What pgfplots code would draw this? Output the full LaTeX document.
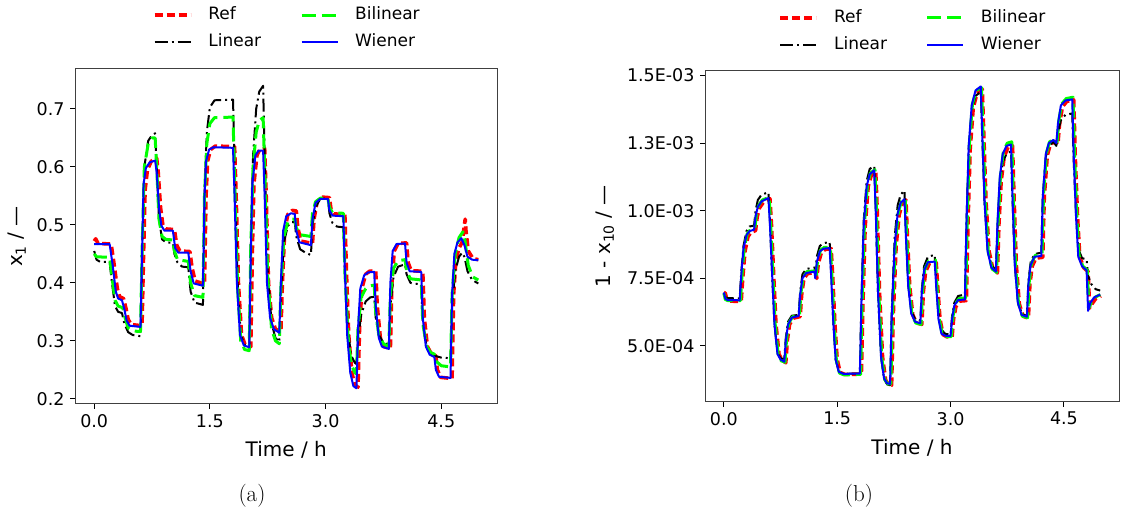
\documentclass[border=0pt]{standalone}
\usepackage{fontspec}
\usepackage{pgfplots}
\pgfplotsset{compat=1.18}
\newfontfamily\dejavu{DejaVu Sans}
\definecolor{cref}{HTML}{FF0000}
\definecolor{cbil}{HTML}{00FF00}
\definecolor{cwie}{HTML}{0000FF}
\pgfplotsset{
  mystyle/.style={
    scale only axis,
    xmin=-0.249, xmax=5.229,
    xtick={0,1.5,3,4.5}, xticklabels={0.0,1.5,3.0,4.5},
    tick pos=left, tick align=outside, major tick length=5pt,
    every tick/.style={black, line width=1pt},
    axis line style={draw=black!75, line width=1pt},
    tick label style={font=\dejavu\fontsize{17.5}{20}\selectfont, text=black},
    xticklabel style={yshift=-2pt},
    yticklabel style={xshift=-2pt},
    label style={font=\dejavu\fontsize{20}{24}\selectfont},
    xlabel={Time / h},
    xlabel style={at={(axis description cs:0.5,0)}, anchor=center, yshift=-46pt},
    legend columns=2, transpose legend,
    legend cell align=left,
    legend image code/.code={\draw[##1] (0pt,0pt) -- (36pt,0pt);},
    legend style={draw=none, fill=none, at={(0.5,1.12)}, anchor=center,
      font=\dejavu\fontsize{17}{20}\selectfont,
      nodes={inner sep=0pt, text height=12pt, text depth=3pt},
      row sep=12pt,
      /tikz/every odd column/.append style={column sep=16pt},
      /tikz/every even column/.append style={column sep=39pt}},
  },
  sref/.style={color=cref, line width=3.6pt, dash pattern=on 8pt off 4pt, line join=round},
  slin/.style={color=black, line width=2pt, dash pattern=on 13pt off 4pt on 2pt off 4pt, line join=round},
  sbil/.style={color=cbil, line width=3pt, dash pattern=on 14pt off 6pt, line join=round},
  swie/.style={color=cwie, line width=2pt, solid, line join=round},
}
\begin{document}
\begin{tikzpicture}[x=1pt,y=1pt]
\useasboundingbox (0,0) rectangle (1121,513);
% ---------------- (a) ----------------
\begin{axis}[mystyle, at={(75pt,109pt)}, anchor=south west,
  width=422.5pt, height=335pt,
  ymin=0.191, ymax=0.769,
  ytick={0.2,0.3,0.4,0.5,0.6,0.7}, yticklabels={0.2,0.3,0.4,0.5,0.6,0.7},
  ylabel={x\textsubscript{1} / —},
  ylabel style={at={(axis description cs:-0.137,0.5)}, anchor=center}]
\addplot[sref] coordinates {(0,0.472)(0.02,0.476)(0.05,0.468)(0.22,0.467)(0.26,0.43)(0.30,0.39)(0.33,0.376)(0.38,0.373)(0.41,0.357)(0.44,0.337)(0.48,0.328)(0.62,0.326)(0.64,0.45)(0.66,0.56)(0.69,0.595)(0.74,0.61)(0.81,0.615)(0.83,0.59)(0.86,0.53)(0.89,0.5)(0.93,0.493)(1.04,0.492)(1.07,0.465)(1.11,0.455)(1.24,0.454)(1.27,0.425)(1.31,0.403)(1.43,0.398)(1.45,0.55)(1.47,0.61)(1.51,0.63)(1.57,0.636)(1.82,0.635)(1.84,0.55)(1.87,0.40)(1.91,0.31)(1.96,0.292)(2.03,0.29)(2.05,0.45)(2.07,0.57)(2.11,0.62)(2.15,0.631)(2.21,0.632)(2.23,0.55)(2.26,0.40)(2.30,0.34)(2.35,0.32)(2.42,0.316)(2.44,0.40)(2.47,0.49)(2.51,0.518)(2.57,0.525)(2.62,0.524)(2.64,0.495)(2.68,0.472)(2.83,0.468)(2.85,0.51)(2.89,0.54)(2.95,0.548)(3.05,0.547)(3.07,0.527)(3.11,0.519)(3.25,0.518)(3.27,0.42)(3.30,0.31)(3.34,0.245)(3.38,0.224)(3.42,0.22)(3.44,0.32)(3.47,0.39)(3.52,0.415)(3.57,0.42)(3.65,0.421)(3.67,0.36)(3.71,0.305)(3.75,0.29)(3.84,0.287)(3.86,0.40)(3.89,0.455)(3.94,0.468)(4.05,0.469)(4.07,0.435)(4.11,0.421)(4.26,0.42)(4.28,0.34)(4.32,0.29)(4.37,0.278)(4.43,0.274)(4.45,0.25)(4.49,0.237)(4.64,0.235)(4.66,0.38)(4.69,0.44)(4.73,0.46)(4.77,0.47)(4.80,0.50)(4.81,0.51)(4.82,0.49)(4.85,0.455)(4.91,0.442)(4.98,0.44)};
\addlegendentry{Ref}
\addplot[slin] coordinates {(0,0.455)(0.03,0.44)(0.08,0.436)(0.20,0.436)(0.23,0.40)(0.27,0.36)(0.31,0.35)(0.36,0.348)(0.39,0.33)(0.44,0.315)(0.50,0.31)(0.60,0.308)(0.62,0.45)(0.65,0.60)(0.70,0.645)(0.75,0.655)(0.79,0.658)(0.81,0.60)(0.84,0.51)(0.88,0.475)(0.93,0.47)(1.02,0.469)(1.04,0.45)(1.08,0.435)(1.14,0.428)(1.22,0.427)(1.25,0.385)(1.30,0.366)(1.41,0.362)(1.43,0.55)(1.46,0.66)(1.50,0.703)(1.56,0.715)(1.80,0.716)(1.82,0.60)(1.86,0.40)(1.90,0.31)(1.95,0.293)(2.01,0.289)(2.03,0.47)(2.06,0.62)(2.10,0.70)(2.14,0.73)(2.19,0.74)(2.21,0.62)(2.25,0.42)(2.30,0.33)(2.35,0.305)(2.40,0.298)(2.42,0.38)(2.46,0.47)(2.51,0.498)(2.56,0.505)(2.60,0.505)(2.62,0.48)(2.67,0.458)(2.74,0.452)(2.81,0.448)(2.83,0.50)(2.87,0.53)(2.93,0.545)(3.03,0.546)(3.05,0.52)(3.09,0.503)(3.15,0.497)(3.23,0.496)(3.25,0.42)(3.29,0.32)(3.33,0.275)(3.38,0.262)(3.40,0.26)(3.42,0.30)(3.46,0.345)(3.52,0.368)(3.58,0.375)(3.63,0.376)(3.65,0.34)(3.69,0.31)(3.75,0.297)(3.82,0.293)(3.84,0.36)(3.88,0.41)(3.94,0.428)(4.03,0.432)(4.05,0.415)(4.10,0.40)(4.24,0.397)(4.26,0.33)(4.31,0.29)(4.36,0.278)(4.42,0.274)(4.50,0.271)(4.62,0.27)(4.64,0.36)(4.68,0.42)(4.73,0.445)(4.77,0.452)(4.80,0.445)(4.84,0.42)(4.90,0.405)(4.98,0.399)};
\addlegendentry{Linear}
\addplot[sbil] coordinates {(0,0.45)(0.03,0.445)(0.20,0.444)(0.23,0.41)(0.27,0.37)(0.31,0.36)(0.37,0.357)(0.40,0.34)(0.44,0.322)(0.50,0.317)(0.60,0.316)(0.62,0.45)(0.65,0.60)(0.70,0.64)(0.75,0.65)(0.79,0.65)(0.81,0.60)(0.84,0.51)(0.88,0.48)(0.93,0.475)(1.02,0.474)(1.04,0.455)(1.08,0.44)(1.22,0.437)(1.25,0.40)(1.30,0.378)(1.41,0.375)(1.43,0.55)(1.46,0.64)(1.50,0.675)(1.56,0.685)(1.80,0.686)(1.82,0.58)(1.86,0.39)(1.90,0.30)(1.95,0.285)(2.01,0.283)(2.03,0.46)(2.06,0.60)(2.10,0.66)(2.14,0.68)(2.19,0.685)(2.21,0.60)(2.25,0.41)(2.30,0.32)(2.35,0.300)(2.40,0.295)(2.42,0.39)(2.46,0.48)(2.51,0.505)(2.56,0.51)(2.60,0.51)(2.62,0.495)(2.67,0.483)(2.81,0.480)(2.83,0.52)(2.87,0.54)(2.93,0.546)(3.03,0.546)(3.05,0.53)(3.09,0.521)(3.23,0.52)(3.25,0.42)(3.29,0.31)(3.33,0.26)(3.38,0.245)(3.40,0.243)(3.42,0.32)(3.46,0.375)(3.52,0.39)(3.58,0.395)(3.63,0.396)(3.65,0.35)(3.69,0.31)(3.75,0.295)(3.82,0.29)(3.84,0.38)(3.88,0.425)(3.94,0.438)(4.03,0.44)(4.05,0.42)(4.10,0.407)(4.24,0.405)(4.26,0.33)(4.31,0.29)(4.36,0.28)(4.41,0.277)(4.43,0.265)(4.50,0.257)(4.62,0.255)(4.64,0.38)(4.68,0.45)(4.73,0.478)(4.78,0.488)(4.81,0.47)(4.85,0.43)(4.91,0.41)(4.98,0.405)};
\addlegendentry{Bilinear}
\addplot[swie] coordinates {(0,0.467)(0.20,0.467)(0.24,0.43)(0.28,0.385)(0.31,0.373)(0.36,0.37)(0.39,0.355)(0.42,0.335)(0.46,0.326)(0.60,0.324)(0.62,0.45)(0.64,0.57)(0.67,0.598)(0.72,0.608)(0.79,0.611)(0.81,0.59)(0.84,0.53)(0.87,0.499)(0.91,0.49)(1.02,0.49)(1.05,0.46)(1.09,0.452)(1.22,0.452)(1.25,0.42)(1.29,0.399)(1.41,0.395)(1.43,0.55)(1.45,0.61)(1.49,0.63)(1.55,0.634)(1.80,0.633)(1.82,0.55)(1.85,0.40)(1.89,0.31)(1.94,0.292)(2.01,0.289)(2.03,0.45)(2.05,0.57)(2.09,0.62)(2.13,0.628)(2.19,0.628)(2.21,0.55)(2.24,0.40)(2.28,0.34)(2.33,0.32)(2.40,0.314)(2.42,0.40)(2.45,0.49)(2.49,0.515)(2.55,0.52)(2.60,0.519)(2.62,0.49)(2.66,0.47)(2.81,0.465)(2.83,0.51)(2.87,0.538)(2.93,0.545)(3.03,0.545)(3.05,0.525)(3.09,0.516)(3.23,0.515)(3.25,0.42)(3.28,0.31)(3.32,0.245)(3.36,0.222)(3.40,0.218)(3.42,0.32)(3.45,0.39)(3.50,0.413)(3.55,0.418)(3.63,0.419)(3.65,0.36)(3.69,0.305)(3.73,0.29)(3.82,0.286)(3.84,0.40)(3.87,0.455)(3.92,0.467)(4.03,0.468)(4.05,0.435)(4.09,0.42)(4.24,0.419)(4.26,0.34)(4.30,0.29)(4.35,0.276)(4.41,0.272)(4.43,0.25)(4.47,0.238)(4.62,0.236)(4.64,0.38)(4.67,0.45)(4.71,0.47)(4.76,0.477)(4.80,0.465)(4.84,0.445)(4.90,0.44)(4.98,0.439)};
\addlegendentry{Wiener}
\end{axis}
% ---------------- (b) ----------------
\begin{axis}[mystyle, at={(705pt,111.3pt)}, anchor=south west,
  width=414pt, height=330.7pt,
  ymin=2.94e-4, ymax=1.517e-3, scaled y ticks=false,
  ytick={5e-4,7.5e-4,1e-3,1.25e-3,1.5e-3},
  yticklabels={5.0E-04,7.5E-04,1.0E-03,1.3E-03,1.5E-03},
  ylabel={1 - x\textsubscript{10} / —},
  ylabel style={at={(axis description cs:-0.2415,0.5)}, anchor=center}]
\addplot[sref] coordinates {(0,6.98e-4)(0.02,6.95e-4)(0.04,6.72e-4)(0.07,6.66e-4)(0.23,6.65e-4)(0.25,7.5e-4)(0.28,8.5e-4)(0.32,9.05e-4)(0.36,9.2e-4)(0.42,9.27e-4)(0.44,9.75e-4)(0.47,10.1e-4)(0.52,10.3e-4)(0.61,10.45e-4)(0.63,9.5e-4)(0.66,7.6e-4)(0.69,5.8e-4)(0.73,4.7e-4)(0.77,4.48e-4)(0.82,4.38e-4)(0.84,5.2e-4)(0.87,5.8e-4)(0.92,6.03e-4)(1.01,6.09e-4)(1.03,6.9e-4)(1.06,7.5e-4)(1.11,7.68e-4)(1.22,7.72e-4)(1.23,7.5e-4)(1.25,8.05e-4)(1.29,8.45e-4)(1.34,8.57e-4)(1.42,8.6e-4)(1.44,7.6e-4)(1.47,5.8e-4)(1.50,4.5e-4)(1.54,4.02e-4)(1.60,3.95e-4)(1.82,3.96e-4)(1.84,6.5e-4)(1.87,9.4e-4)(1.91,10.9e-4)(1.95,11.3e-4)(2.01,11.45e-4)(2.03,10.0e-4)(2.06,7.0e-4)(2.10,4.6e-4)(2.14,3.75e-4)(2.18,3.57e-4)(2.22,3.55e-4)(2.24,6.0e-4)(2.28,8.7e-4)(2.32,9.85e-4)(2.36,10.25e-4)(2.41,10.4e-4)(2.43,9.0e-4)(2.46,7.2e-4)(2.50,6.15e-4)(2.55,5.85e-4)(2.62,5.8e-4)(2.64,7.0e-4)(2.67,7.75e-4)(2.72,8.05e-4)(2.81,8.08e-4)(2.83,7.2e-4)(2.86,6.0e-4)(2.90,5.42e-4)(2.95,5.34e-4)(3.02,5.33e-4)(3.04,6.0e-4)(3.07,6.45e-4)(3.12,6.66e-4)(3.21,6.68e-4)(3.23,9.5e-4)(3.26,12.3e-4)(3.30,13.8e-4)(3.35,14.35e-4)(3.42,14.5e-4)(3.44,12.8e-4)(3.47,10.3e-4)(3.51,8.5e-4)(3.56,7.85e-4)(3.62,7.7e-4)(3.64,9.5e-4)(3.67,11.1e-4)(3.71,12.0e-4)(3.76,12.35e-4)(3.82,12.4e-4)(3.84,10.5e-4)(3.87,8.0e-4)(3.91,6.55e-4)(3.96,6.1e-4)(4.03,6.03e-4)(4.05,7.3e-4)(4.08,7.95e-4)(4.13,8.25e-4)(4.22,8.28e-4)(4.24,10.5e-4)(4.28,12.05e-4)(4.32,12.45e-4)(4.38,12.57e-4)(4.42,12.45e-4)(4.44,13.15e-4)(4.48,13.85e-4)(4.54,14.05e-4)(4.63,14.1e-4)(4.65,12.0e-4)(4.68,9.8e-4)(4.71,8.3e-4)(4.76,7.9e-4)(4.82,7.75e-4)(4.84,6.4e-4)(4.87,6.55e-4)(4.92,6.75e-4)(4.99,6.85e-4)};
\addlegendentry{Ref}
\addplot[slin] coordinates {(0,6.95e-4)(0.02,6.8e-4)(0.05,6.77e-4)(0.21,6.76e-4)(0.23,7.7e-4)(0.26,8.7e-4)(0.30,9.25e-4)(0.34,9.42e-4)(0.40,9.45e-4)(0.42,10.0e-4)(0.45,10.4e-4)(0.50,10.6e-4)(0.59,10.68e-4)(0.61,9.6e-4)(0.64,7.6e-4)(0.67,5.8e-4)(0.71,4.75e-4)(0.75,4.55e-4)(0.80,4.5e-4)(0.82,5.3e-4)(0.85,5.9e-4)(0.90,6.12e-4)(0.99,6.15e-4)(1.01,7.0e-4)(1.04,7.65e-4)(1.09,7.85e-4)(1.20,7.9e-4)(1.21,7.7e-4)(1.23,8.3e-4)(1.27,8.7e-4)(1.32,8.8e-4)(1.40,8.85e-4)(1.42,7.7e-4)(1.45,5.8e-4)(1.48,4.5e-4)(1.52,4.05e-4)(1.58,3.98e-4)(1.80,3.98e-4)(1.82,6.6e-4)(1.85,9.6e-4)(1.89,11.1e-4)(1.93,11.55e-4)(1.99,11.65e-4)(2.01,10.1e-4)(2.04,7.0e-4)(2.08,4.6e-4)(2.12,3.8e-4)(2.16,3.58e-4)(2.20,3.55e-4)(2.22,6.1e-4)(2.26,9.0e-4)(2.30,10.2e-4)(2.34,10.6e-4)(2.39,10.75e-4)(2.41,9.2e-4)(2.44,7.3e-4)(2.48,6.3e-4)(2.53,6.0e-4)(2.60,5.95e-4)(2.62,7.1e-4)(2.65,7.95e-4)(2.70,8.3e-4)(2.79,8.37e-4)(2.81,7.4e-4)(2.84,6.2e-4)(2.88,5.6e-4)(2.93,5.45e-4)(3.00,5.42e-4)(3.02,6.1e-4)(3.05,6.6e-4)(3.10,6.85e-4)(3.19,6.9e-4)(3.21,9.5e-4)(3.24,12.3e-4)(3.28,13.7e-4)(3.33,14.25e-4)(3.40,14.4e-4)(3.42,12.7e-4)(3.45,10.3e-4)(3.49,8.6e-4)(3.54,8.0e-4)(3.60,7.8e-4)(3.62,9.3e-4)(3.65,10.9e-4)(3.69,11.8e-4)(3.74,12.1e-4)(3.80,12.2e-4)(3.82,10.4e-4)(3.85,8.0e-4)(3.89,6.7e-4)(3.94,6.2e-4)(4.01,6.1e-4)(4.03,7.4e-4)(4.06,8.1e-4)(4.11,8.4e-4)(4.20,8.45e-4)(4.22,10.5e-4)(4.26,12.0e-4)(4.30,12.4e-4)(4.36,12.55e-4)(4.40,12.4e-4)(4.42,12.9e-4)(4.46,13.35e-4)(4.52,13.55e-4)(4.61,13.6e-4)(4.63,11.8e-4)(4.66,9.9e-4)(4.69,8.6e-4)(4.74,8.25e-4)(4.80,8.2e-4)(4.82,7.6e-4)(4.86,7.3e-4)(4.92,7.1e-4)(4.98,7.05e-4)};
\addlegendentry{Linear}
\addplot[sbil] coordinates {(0,6.95e-4)(0.02,6.72e-4)(0.05,6.68e-4)(0.22,6.68e-4)(0.24,7.6e-4)(0.27,8.65e-4)(0.31,9.15e-4)(0.35,9.3e-4)(0.41,9.33e-4)(0.43,9.85e-4)(0.46,10.2e-4)(0.51,10.4e-4)(0.60,10.5e-4)(0.62,9.5e-4)(0.65,7.6e-4)(0.68,5.8e-4)(0.72,4.65e-4)(0.76,4.45e-4)(0.81,4.4e-4)(0.83,5.25e-4)(0.86,5.85e-4)(0.91,6.08e-4)(1.00,6.13e-4)(1.02,6.95e-4)(1.05,7.55e-4)(1.10,7.75e-4)(1.21,7.78e-4)(1.22,7.55e-4)(1.24,8.15e-4)(1.28,8.55e-4)(1.33,8.65e-4)(1.41,8.65e-4)(1.43,7.6e-4)(1.46,5.8e-4)(1.49,4.45e-4)(1.53,4.0e-4)(1.59,3.93e-4)(1.81,3.95e-4)(1.83,6.6e-4)(1.86,9.5e-4)(1.90,10.95e-4)(1.94,11.4e-4)(2.00,11.52e-4)(2.02,10.0e-4)(2.05,7.0e-4)(2.09,4.55e-4)(2.13,3.75e-4)(2.17,3.6e-4)(2.21,3.6e-4)(2.23,6.1e-4)(2.27,8.8e-4)(2.31,9.95e-4)(2.35,10.35e-4)(2.40,10.45e-4)(2.42,9.0e-4)(2.45,7.2e-4)(2.49,6.15e-4)(2.54,5.85e-4)(2.61,5.8e-4)(2.63,7.05e-4)(2.66,7.85e-4)(2.71,8.15e-4)(2.80,8.18e-4)(2.82,7.2e-4)(2.85,6.0e-4)(2.89,5.42e-4)(2.94,5.35e-4)(3.01,5.35e-4)(3.03,6.05e-4)(3.06,6.55e-4)(3.11,6.75e-4)(3.20,6.78e-4)(3.22,9.6e-4)(3.25,12.5e-4)(3.29,13.95e-4)(3.34,14.45e-4)(3.41,14.55e-4)(3.43,12.8e-4)(3.46,10.3e-4)(3.50,8.45e-4)(3.55,7.85e-4)(3.61,7.72e-4)(3.63,9.6e-4)(3.66,11.3e-4)(3.70,12.2e-4)(3.75,12.5e-4)(3.81,12.55e-4)(3.83,10.5e-4)(3.86,8.0e-4)(3.90,6.55e-4)(3.95,6.1e-4)(4.02,6.05e-4)(4.04,7.35e-4)(4.07,8.05e-4)(4.12,8.35e-4)(4.21,8.38e-4)(4.23,10.6e-4)(4.27,12.15e-4)(4.31,12.55e-4)(4.37,12.65e-4)(4.41,12.55e-4)(4.43,13.3e-4)(4.47,13.95e-4)(4.53,14.15e-4)(4.62,14.2e-4)(4.64,12.1e-4)(4.67,9.9e-4)(4.70,8.35e-4)(4.75,7.95e-4)(4.81,7.8e-4)(4.83,6.4e-4)(4.86,6.6e-4)(4.91,6.8e-4)(4.98,6.9e-4)};
\addlegendentry{Bilinear}
\addplot[swie] coordinates {(0,6.98e-4)(0.02,6.75e-4)(0.05,6.70e-4)(0.21,6.69e-4)(0.23,7.6e-4)(0.26,8.6e-4)(0.30,9.1e-4)(0.34,9.25e-4)(0.40,9.3e-4)(0.42,9.8e-4)(0.45,10.15e-4)(0.50,10.35e-4)(0.59,10.47e-4)(0.61,9.5e-4)(0.64,7.6e-4)(0.67,5.8e-4)(0.71,4.7e-4)(0.75,4.5e-4)(0.80,4.42e-4)(0.82,5.2e-4)(0.85,5.8e-4)(0.90,6.05e-4)(0.99,6.11e-4)(1.01,6.9e-4)(1.04,7.5e-4)(1.09,7.7e-4)(1.20,7.75e-4)(1.21,7.5e-4)(1.23,8.1e-4)(1.27,8.5e-4)(1.32,8.6e-4)(1.40,8.62e-4)(1.42,7.6e-4)(1.45,5.8e-4)(1.48,4.5e-4)(1.52,4.05e-4)(1.58,3.97e-4)(1.80,3.98e-4)(1.82,6.5e-4)(1.85,9.4e-4)(1.89,10.9e-4)(1.93,11.35e-4)(1.99,11.5e-4)(2.01,10.0e-4)(2.04,7.0e-4)(2.08,4.6e-4)(2.12,3.8e-4)(2.16,3.62e-4)(2.20,3.6e-4)(2.22,6.0e-4)(2.26,8.7e-4)(2.30,9.9e-4)(2.34,10.3e-4)(2.39,10.43e-4)(2.41,9.0e-4)(2.44,7.2e-4)(2.48,6.2e-4)(2.53,5.9e-4)(2.60,5.84e-4)(2.62,7.0e-4)(2.65,7.8e-4)(2.70,8.1e-4)(2.79,8.12e-4)(2.81,7.2e-4)(2.84,6.0e-4)(2.88,5.45e-4)(2.93,5.38e-4)(3.00,5.37e-4)(3.02,6.0e-4)(3.05,6.5e-4)(3.10,6.7e-4)(3.19,6.72e-4)(3.21,9.5e-4)(3.24,12.4e-4)(3.28,13.9e-4)(3.33,14.45e-4)(3.40,14.6e-4)(3.42,12.8e-4)(3.45,10.3e-4)(3.49,8.5e-4)(3.54,7.9e-4)(3.60,7.75e-4)(3.62,9.5e-4)(3.65,11.2e-4)(3.69,12.1e-4)(3.74,12.4e-4)(3.80,12.45e-4)(3.82,10.5e-4)(3.85,8.0e-4)(3.89,6.6e-4)(3.94,6.15e-4)(4.01,6.08e-4)(4.03,7.3e-4)(4.06,8.0e-4)(4.11,8.3e-4)(4.20,8.33e-4)(4.22,10.5e-4)(4.26,12.1e-4)(4.30,12.5e-4)(4.36,12.62e-4)(4.40,12.5e-4)(4.42,13.2e-4)(4.46,13.9e-4)(4.52,14.08e-4)(4.61,14.12e-4)(4.63,12.0e-4)(4.66,9.8e-4)(4.69,8.3e-4)(4.74,7.95e-4)(4.80,7.8e-4)(4.82,6.3e-4)(4.85,6.6e-4)(4.90,6.8e-4)(4.98,6.9e-4)};
\addlegendentry{Wiener}
\end{axis}
\node[font=\fontsize{23}{27}\selectfont] at (252,17) {(a)};
\node[font=\fontsize{23}{27}\selectfont] at (859,17) {(b)};
\end{tikzpicture}
\end{document}
